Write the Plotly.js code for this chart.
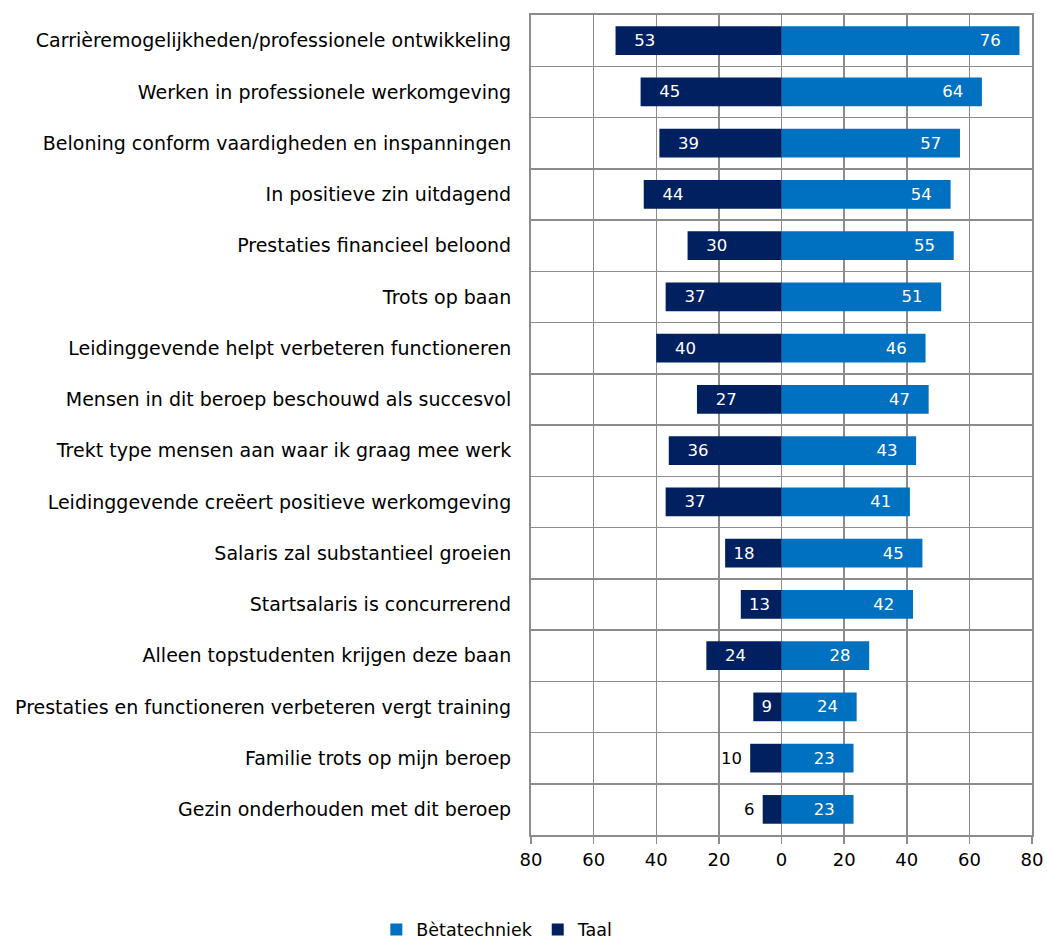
<!DOCTYPE html>
<html>
<head>
<meta charset="utf-8">
<script src="https://cdn.plot.ly/plotly-3.0.1.min.js"></script>
<style>html,body{margin:0;padding:0;background:#fff;}#chart{width:1047px;height:940px;}</style>
</head>
<body>
<div id="chart"></div>
<script>
const categories = [
  "Carrièremogelijkheden/professionele ontwikkeling",
  "Werken in professionele werkomgeving",
  "Beloning conform vaardigheden en inspanningen",
  "In positieve zin uitdagend",
  "Prestaties financieel beloond",
  "Trots op baan",
  "Leidinggevende helpt verbeteren functioneren",
  "Mensen in dit beroep beschouwd als succesvol",
  "Trekt type mensen aan waar ik graag mee werk",
  "Leidinggevende creëert positieve werkomgeving",
  "Salaris zal substantieel groeien",
  "Startsalaris is concurrerend",
  "Alleen topstudenten krijgen deze baan",
  "Prestaties en functioneren verbeteren vergt training",
  "Familie trots op mijn beroep",
  "Gezin onderhouden met dit beroep"
];
const betatechniek = [76,64,57,54,55,51,46,47,43,41,45,42,28,24,23,23];
const taal = [53,45,39,44,30,37,40,27,36,37,18,13,24,9,10,6];
const tickValues = [-80,-60,-40,-20,0,20,40,60,80];
const tickLabels = tickValues.map(v => String(Math.abs(v)));
// which Taal labels sit outside their bar (as in the source)
const taalLabelOutside = [false,false,false,false,false,false,false,false,false,false,false,false,false,false,true,true];

const FONT = "'DejaVu Sans', Verdana, sans-serif";
const NB = '\u00a0';
const pad = v => v >= 20 ? NB + NB + NB : NB;

const traces = [
  {
    type: 'bar', orientation: 'h', name: 'Bètatechniek',
    y: categories, x: betatechniek,
    marker: {color: '#0070C0'},
    text: betatechniek.map(v => v + pad(v)),
    textposition: 'inside', insidetextanchor: 'end',
    textangle: 0, constraintext: 'none',
    textfont: {color: '#ffffff', size: 16.5, family: FONT},
    hoverinfo: 'x+y'
  },
  {
    type: 'bar', orientation: 'h', name: 'Taal',
    y: categories, x: taal.map(v => -v),
    marker: {color: '#002060'},
    text: taal.map((v, i) => taalLabelOutside[i] ? v + NB : pad(v) + v),
    textposition: taalLabelOutside.map(o => o ? 'outside' : 'inside'),
    insidetextanchor: 'end',
    textangle: 0, constraintext: 'none', cliponaxis: false,
    textfont: {color: taalLabelOutside.map(o => o ? '#000000' : '#ffffff'), size: 16.5, family: FONT},
    hoverinfo: 'y'
  }
];

const layout = {
  width: 1047, height: 940,
  margin: {l: 531, r: 15, t: 15, b: 105},
  paper_bgcolor: '#ffffff', plot_bgcolor: '#ffffff',
  barmode: 'overlay', bargap: 0.44,
  font: {family: FONT, size: 17, color: '#000000'},
  showlegend: true,
  legend: {orientation: 'h', x: 0.475, xref: 'container', xanchor: 'center', y: 0.011, yref: 'container', yanchor: 'middle',
           font: {size: 17.5, family: FONT}, traceorder: 'normal', itemwidth: 30},
  xaxis: {
    range: [-80, 80], tickvals: tickValues, ticktext: tickLabels,
    showgrid: true, gridcolor: '#8c8c8c', gridwidth: 1.5,
    zeroline: true, zerolinecolor: '#8c8c8c', zerolinewidth: 1.5,
    showline: true, linecolor: '#8c8c8c', linewidth: 2, mirror: true,
    ticks: 'outside', ticklen: 7, tickcolor: '#8c8c8c', tickwidth: 1.5,
    tickfont: {size: 18, family: FONT}, fixedrange: true
  },
  yaxis: {
    type: 'category', autorange: 'reversed',
    tickson: 'boundaries', ticks: '', showgrid: true,
    gridcolor: '#8c8c8c', gridwidth: 1.5,
    showline: true, linecolor: '#8c8c8c', linewidth: 2, mirror: true,
    tickfont: {size: 19, family: FONT}, ticklabelstandoff: 14, fixedrange: true
  }
};

Plotly.newPlot('chart', traces, layout, {displayModeBar: false, staticPlot: true});
</script>
</body>
</html>
